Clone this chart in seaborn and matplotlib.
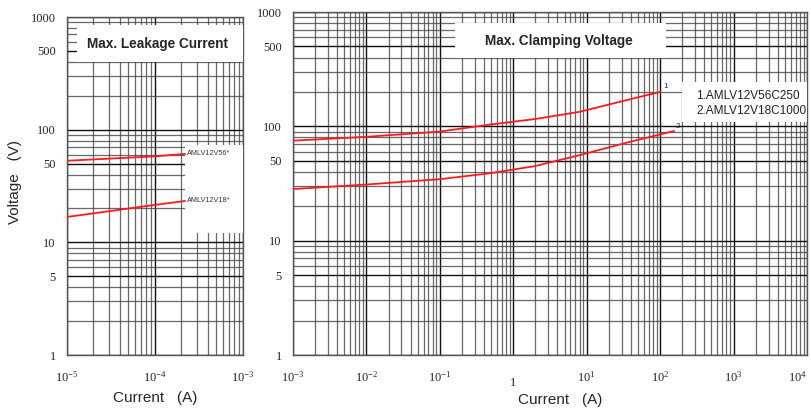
import matplotlib
matplotlib.use("Agg")
import matplotlib.pyplot as plt
import matplotlib.ticker as mticker
from matplotlib.patches import Rectangle
import pandas as pd
import seaborn as sns

# Max. leakage current (left panel)
leak_current = [1e-5, 1e-4, 2.2e-4]
leak_v56 = [53, 58, 61]
leak_v18 = [16.8, 21.5, 23.3]

# Max. clamping voltage (right panel)
clamp_current_1 = [1e-3, 1e-2, 1e-1, 0.5, 2, 8, 38, 100]
clamp_v56 = [75, 81, 90, 104, 116, 134, 172, 200]
clamp_current_2 = [1e-3, 1e-2, 1e-1, 0.5, 2, 8, 38, 155]
clamp_v18 = [28.3, 31, 34.5, 39, 45, 56, 73, 91]

y_ticks = [1, 5, 10, 50, 100, 500, 1000]
left_xticks = [1e-5, 1e-4, 1e-3]
left_xlabels = [r"$10^{-5}$", r"$10^{-4}$", r"$10^{-3}$"]
right_xticks = [1e-3, 1e-2, 1e-1, 1, 1e1, 1e2, 1e3, 1e4]
right_xlabels = [r"$10^{-3}$", r"$10^{-2}$", r"$10^{-1}$", "1",
                 r"$10^{1}$", r"$10^{2}$", r"$10^{3}$", r"$10^{4}$"]

sns.set_style("white")
plt.rcParams["font.family"] = ["Liberation Sans", "DejaVu Sans"]
plt.rcParams["mathtext.fontset"] = "custom"
plt.rcParams["mathtext.rm"] = "Liberation Serif"
plt.rcParams["mathtext.it"] = "Liberation Serif"

fig = plt.figure(figsize=(8.12, 4.12), dpi=100)
ax_l = fig.add_axes([0.0825, 0.1383, 0.2167, 0.8204])
ax_r = fig.add_axes([0.3608, 0.1383, 0.6330, 0.8325])

red = "#ff1a1a"


def style_log_axes(ax, xlim, xticks, xlabels):
    ax.set_xscale("log")
    ax.set_yscale("log")
    ax.set_xlim(*xlim)
    ax.set_ylim(1, 1000)
    ax.xaxis.set_major_locator(mticker.FixedLocator(xticks))
    ax.xaxis.set_minor_locator(mticker.LogLocator(base=10, subs=range(2, 10)))
    ax.yaxis.set_major_locator(mticker.FixedLocator(y_ticks))
    ax.yaxis.set_minor_locator(mticker.LogLocator(base=10, subs=range(2, 10)))
    ax.set_xticklabels(xlabels, fontsize=9, family="Liberation Serif")
    ax.set_yticklabels([str(v) for v in y_ticks], fontsize=9, family="Liberation Serif")
    ax.yaxis.set_minor_formatter(mticker.NullFormatter())
    ax.xaxis.set_minor_formatter(mticker.NullFormatter())
    ax.tick_params(which="both", length=0)
    ax.tick_params(axis="x", pad=11)
    ax.tick_params(axis="y", pad=8)
    ax.grid(which="major", color="#111111", lw=1.0)
    ax.grid(which="minor", color="#444444", lw=0.9, alpha=0.8)
    for sp in ax.spines.values():
        sp.set_color("#555555")
        sp.set_linewidth(1.0)
    ax.set_axisbelow(True)


style_log_axes(ax_l, (1e-5, 1e-3), left_xticks, left_xlabels)
style_log_axes(ax_r, (1e-3, 1e4), right_xticks, right_xlabels)

# "1" tick label sits a bit lower in the reference, last label kept inside
for lbl in ax_r.get_xticklabels():
    if lbl.get_text() == "1":
        lbl.set_y(-0.02)
ax_r.get_xticklabels()[-1].set_horizontalalignment("right")

# Left panel curves
df_l = pd.DataFrame({
    "I": leak_current * 2,
    "V": leak_v56 + leak_v18,
    "s": ["56"] * len(leak_current) + ["18"] * len(leak_current),
})
sns.lineplot(data=df_l, x="I", y="V", units="s", estimator=None,
             color=red, lw=1.3, ax=ax_l, legend=False, zorder=5)

# Right panel curves
df_r = pd.DataFrame({
    "I": clamp_current_1 + clamp_current_2,
    "V": clamp_v56 + clamp_v18,
    "s": ["1"] * len(clamp_current_1) + ["2"] * len(clamp_current_2),
})
sns.lineplot(data=df_r, x="I", y="V", units="s", estimator=None,
             color=red, lw=1.3, ax=ax_r, legend=False, zorder=5)

ax_l.set_xlabel("")
ax_l.set_ylabel("")
ax_r.set_xlabel("")
ax_r.set_ylabel("")

# Title boxes
ax_l.add_patch(Rectangle((0.057, 0.867), 0.943, 0.109, transform=ax_l.transAxes,
                         facecolor="white", edgecolor="none", zorder=3))
ax_l.text(0.515, 0.92, "Max. Leakage Current", transform=ax_l.transAxes,
          ha="center", va="center", fontsize=9.8, fontweight="bold", zorder=6)

ax_r.add_patch(Rectangle((0.315, 0.866), 0.411, 0.102, transform=ax_r.transAxes,
                         facecolor="white", edgecolor="none", zorder=3))
ax_r.text(0.518, 0.915, "Max. Clamping Voltage", transform=ax_r.transAxes,
          ha="center", va="center", fontsize=9.8, fontweight="bold", zorder=6)

# Left curve labels
ax_l.add_patch(Rectangle((0.67, 0.36), 0.33, 0.26, transform=ax_l.transAxes,
                         facecolor="white", edgecolor="none", zorder=3))
ax_l.text(2.3e-4, leak_v56[-1], "AMLV12V56*", fontsize=5.2, color="#333333",
          va="center", ha="left", zorder=6)
ax_l.text(2.3e-4, leak_v18[-1], "AMLV12V18*", fontsize=5.2, color="#333333",
          va="center", ha="left", zorder=6)

# Right legend box
ax_r.add_patch(Rectangle((0.757, 0.679), 0.243, 0.117, transform=ax_r.transAxes,
                         facecolor="white", edgecolor="none", zorder=3))
ax_r.text(0.785, 0.755, "1.AMLV12V56C250", transform=ax_r.transAxes,
          fontsize=8.5, va="center", ha="left", color="#222222", zorder=6)
ax_r.text(0.785, 0.712, "2.AMLV12V18C1000", transform=ax_r.transAxes,
          fontsize=8.5, va="center", ha="left", color="#222222", zorder=6)
ax_r.text(clamp_current_1[-1] * 1.12, clamp_v56[-1] * 1.05, "1", fontsize=6,
          color="#333333", va="bottom", ha="left", zorder=6)
ax_r.text(clamp_current_2[-1] * 1.05, clamp_v18[-1] * 1.03, "2", fontsize=6,
          color="#333333", va="bottom", ha="left", zorder=6)

# Axis titles
fig.text(155 / 812, 1 - 398 / 412, "Current   (A)", ha="center", va="center", fontsize=11)
fig.text(560 / 812, 1 - 400 / 412, "Current   (A)", ha="center", va="center", fontsize=11)
fig.text(15 / 812, 1 - 182 / 412, "Voltage   (V)", ha="center", va="center",
         fontsize=11, rotation=90)

fig.savefig("out.png", dpi=100)
